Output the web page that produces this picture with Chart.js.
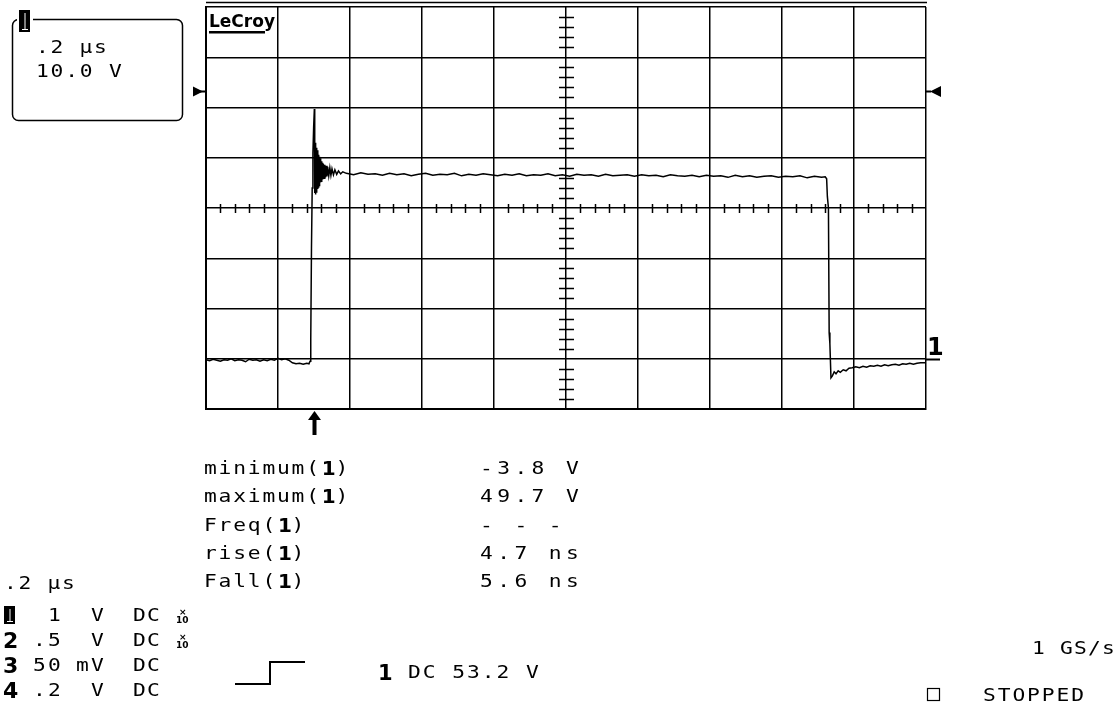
<!DOCTYPE html>
<html>
<head>
<meta charset="utf-8">
<title>LeCroy capture</title>
<script src="https://cdn.jsdelivr.net/npm/chart.js@4.4.1/dist/chart.umd.min.js"></script>
<style>
  html, body { margin: 0; padding: 0; background: #fff; }
  canvas { display: block; }
</style>
</head>
<body>
<canvas id="scope" width="1117" height="708"></canvas>
<script>
'use strict';

// Channel 1 trace. Time in ns from the left edge (0.2 us/div),
// volts with the x10 probe (10 V/div).
var baseT = [0, 10, 20, 30, 40, 50, 60, 70, 80, 90, 100, 110, 120, 130, 140, 150, 160, 170, 180, 190, 200, 210, 220, 230, 240, 250, 260, 270, 280, 286, 289];
var baseV = [-0.2, -0.4, -0.1, -0.3, -0.5, -0.2, -0.3, 0.0, -0.4, -0.2, -0.3, -0.6, -0.1, -0.3, -0.2, -0.5, -0.2, -0.4, -0.1, -0.3, 0.1, -0.2, 0.0, -0.3, -0.8, -1.0, -0.9, -1.1, -0.9, -1.0, -0.5];

var riseT = [291, 293, 295, 297, 299, 301, 302, 303, 304, 305, 306, 307, 308, 309, 310, 311, 312, 313, 314, 315, 316, 317, 318, 319, 320, 321, 322, 323, 324, 326, 328, 330, 332, 334, 336, 338, 341, 344, 347, 350, 354, 358, 363, 368, 374, 380];
var riseV = [4.0, 22.0, 34.0, 41.0, 46.0, 49.7, 33.0, 43.0, 32.7, 42.5, 33.2, 42.0, 33.5, 41.5, 33.8, 41.0, 34.2, 40.6, 34.5, 40.2, 34.8, 39.9, 35.1, 39.6, 35.3, 39.3, 35.5, 39.0, 35.7, 38.8, 35.9, 38.6, 36.1, 38.4, 36.3, 38.2, 36.4, 38.0, 36.5, 37.8, 36.6, 37.6, 36.7, 37.4, 36.8, 37.2];

var topT = [390, 410, 430, 450, 470, 490, 510, 530, 550, 570, 590, 610, 630, 650, 670, 690, 710, 730, 750, 770, 790, 810, 830, 850, 870, 890, 910, 930, 950, 970, 990, 1010, 1030, 1050, 1070, 1090, 1110, 1130, 1150, 1170, 1190, 1210, 1230, 1250, 1270, 1290, 1310, 1330, 1350, 1370, 1390, 1410, 1430, 1450, 1470, 1490, 1510, 1530, 1550, 1570, 1590, 1610, 1630, 1650, 1670, 1690, 1710, 1720];
var topV = [36.9, 36.6, 37.0, 36.7, 36.8, 36.5, 36.9, 36.6, 36.8, 36.4, 36.7, 36.9, 36.5, 36.7, 36.6, 36.9, 36.4, 36.7, 36.5, 36.8, 36.6, 36.4, 36.7, 36.5, 36.8, 36.4, 36.6, 36.5, 36.8, 36.4, 36.6, 36.3, 36.7, 36.5, 36.6, 36.3, 36.7, 36.4, 36.5, 36.6, 36.3, 36.6, 36.4, 36.5, 36.2, 36.6, 36.4, 36.3, 36.5, 36.2, 36.5, 36.3, 36.4, 36.1, 36.5, 36.2, 36.4, 36.1, 36.3, 36.4, 36.1, 36.3, 36.2, 36.4, 36.0, 36.3, 36.1, 36.2];

var fallT = [1724, 1726, 1729, 1731, 1733, 1736, 1740, 1745, 1750, 1756, 1762, 1770, 1778, 1786, 1795, 1805, 1815, 1825, 1835, 1845, 1855, 1865, 1875, 1885, 1895, 1905, 1915, 1925, 1935, 1945, 1955, 1965, 1975, 1985, 2000];
var fallV = [35.8, 32.3, 30.0, 5.2, 3.0, -3.8, -3.4, -2.6, -3.0, -2.4, -2.7, -2.2, -2.4, -1.9, -1.8, -1.6, -1.8, -1.5, -1.7, -1.4, -1.5, -1.3, -1.5, -1.2, -1.4, -1.2, -1.1, -1.3, -1.0, -1.1, -0.9, -1.1, -0.9, -0.8, -0.8];

// screen settings
var triggerNs = 300;
var triggerVolts = 53.2;
var centreNs = 1000;
var centreVolts = 30;

// measurement panel
var paramNames = ['minimum', 'maximum', 'Freq', 'rise', 'Fall'];
var paramValues = ['-3.8 V', '49.7 V', '- - -', '4.7 ns', '5.6 ns'];

// channel setup rows
var chanIds = ['1', '2', '3', '4'];
var chanScale = [' 1', '.5', '50', '.2'];
var chanUnit = [' V', ' V', 'mV', ' V'];
var chanCoupling = ['DC', 'DC', 'DC', 'DC'];
var chanProbe = [true, true, false, false];

function toPoints(ts, vs) {
    return ts.map((t, i) => ({ x: t, y: vs[i] }));
}

var trace = [].concat(
    toPoints(baseT, baseV),
    toPoints(riseT, riseV),
    toPoints(topT, topV),
    toPoints(fallT, fallV)
);

var MONO = '"DejaVu Sans Mono", monospace';

function drawText(ctx, str, x, baseline, pitch, sx) {
    ctx.font = '17px ' + MONO;
    for (var i = 0; i < str.length; i++) {
        var ch = str[i];
        if (ch === ' ') continue;
        ctx.save();
        ctx.translate(x + i * pitch, baseline);
        ctx.scale(sx || 1.25, 1);
        ctx.fillText(ch, 0, 0);
        ctx.restore();
    }
}

function boldDigit(ctx, d, x, baseline, size) {
    ctx.font = 'bold ' + size + 'px "DejaVu Sans", sans-serif';
    ctx.fillText(d, x, baseline);
}

function badge(ctx, x, y, w, h) {
    ctx.fillStyle = '#000';
    ctx.fillRect(x, y, w, h);
    ctx.strokeStyle = '#fff';
    ctx.lineWidth = 1;
    ctx.beginPath();
    ctx.moveTo(x + w / 2 + 0.5, y + 3);
    ctx.lineTo(x + w / 2 + 0.5, y + h - 2);
    ctx.moveTo(x + 3, y + h - 2.5);
    ctx.lineTo(x + w - 2, y + h - 2.5);
    ctx.stroke();
    ctx.strokeStyle = '#000';
}

var scopeDecor = {
    id: 'scopeDecor',
    afterDraw: function (chart) {
        var ctx = chart.ctx;
        var xs = chart.scales.x;
        var ys = chart.scales.y;
        var area = chart.chartArea;
        ctx.save();
        ctx.fillStyle = '#000';
        ctx.strokeStyle = '#000';
        ctx.textAlign = 'left';
        ctx.textBaseline = 'alphabetic';

        // minor ticks on the centre cross
        var cy = Math.round(ys.getPixelForValue(centreVolts)) + 0.5;
        var cx = Math.round(xs.getPixelForValue(centreNs)) + 0.5;
        ctx.lineWidth = 1.5;
        ctx.beginPath();
        for (var t = xs.min; t <= xs.max; t += 40) {
            if (t % 200 === 0) continue;
            var px = Math.round(xs.getPixelForValue(t)) + 0.5;
            ctx.moveTo(px, cy - 4.5);
            ctx.lineTo(px, cy + 4.5);
        }
        for (var v = ys.min; v <= ys.max; v += 2) {
            if (v % 10 === 0) continue;
            var py = Math.round(ys.getPixelForValue(v)) + 0.5;
            ctx.moveTo(cx - 7.5, py);
            ctx.lineTo(cx + 7.5, py);
        }
        ctx.stroke();

        // frame line above the grid
        ctx.lineWidth = 1.5;
        ctx.beginPath();
        ctx.moveTo(area.left, 2.5);
        ctx.lineTo(area.right + 1, 2.5);
        ctx.stroke();

        // LeCroy logo
        ctx.font = 'bold 17px "DejaVu Sans", sans-serif';
        ctx.fillText('LeCroy', area.left + 3, 27);
        ctx.fillRect(area.left + 3, 31, 56, 2.5);

        // trigger level arrows
        var ty = Math.round(ys.getPixelForValue(triggerVolts)) + 0.5;
        ctx.beginPath();
        ctx.moveTo(193, ty - 5);
        ctx.lineTo(203, ty);
        ctx.lineTo(193, ty + 5);
        ctx.closePath();
        ctx.fill();
        ctx.fillRect(200, ty - 1, area.left - 200, 2);
        ctx.beginPath();
        ctx.moveTo(941, ty - 5.5);
        ctx.lineTo(930, ty);
        ctx.lineTo(941, ty + 5.5);
        ctx.closePath();
        ctx.fill();
        ctx.fillRect(area.right, ty - 1, 5, 2);

        // trigger time arrow under the grid
        var tx = Math.round(xs.getPixelForValue(triggerNs));
        ctx.beginPath();
        ctx.moveTo(tx + 0.5, area.bottom + 2);
        ctx.lineTo(tx + 7, area.bottom + 11);
        ctx.lineTo(tx - 6, area.bottom + 11);
        ctx.closePath();
        ctx.fill();
        ctx.fillRect(tx - 1.5, area.bottom + 10, 4, 16);

        // ground marker for channel 1
        var gy = Math.round(ys.getPixelForValue(0)) + 0.5;
        ctx.lineWidth = 2;
        ctx.beginPath();
        ctx.moveTo(area.right, gy);
        ctx.lineTo(area.right + 14, gy);
        ctx.stroke();
        boldDigit(ctx, '1', area.right + 1, gy - 5, 24);

        // channel 1 info box
        ctx.lineWidth = 1.5;
        ctx.beginPath();
        ctx.roundRect(12.5, 19.5, 170, 101, 6);
        ctx.stroke();
        ctx.fillStyle = '#fff';
        ctx.fillRect(17, 8, 16, 14);
        badge(ctx, 19, 10, 11, 22);
        ctx.fillStyle = '#000';
        drawText(ctx, '.2 µs', 36, 53, 14.5);
        drawText(ctx, '10.0 V', 36, 77, 14.6);

        // measurement panel
        for (var i = 0; i < paramNames.length; i++) {
            var base = 474 + i * 28.3;
            var name = paramNames[i] + '(';
            drawText(ctx, name, 204, base, 14.6);
            boldDigit(ctx, '1', 204 + name.length * 14.6 + 1, base + 1, 20);
            drawText(ctx, ')', 204 + (name.length + 1) * 14.6, base, 14.6);
            drawText(ctx, paramValues[i], 480, base, 17.2);
        }

        // timebase and channel rows
        drawText(ctx, '.2 µs', 4, 589, 14.5);
        for (var c = 0; c < chanIds.length; c++) {
            var rb = 621 + c * 25;
            if (c === 0) {
                badge(ctx, 4, rb - 15, 11, 18);
            } else {
                boldDigit(ctx, chanIds[c], 3, rb + 2, 22);
            }
            drawText(ctx, chanScale[c], 33, rb, 15);
            drawText(ctx, chanUnit[c], 76, rb, 15);
            drawText(ctx, chanCoupling[c], 133, rb, 14);
            if (chanProbe[c]) {
                ctx.font = 'bold 9px "DejaVu Sans", sans-serif';
                ctx.fillText('×', 179, rb - 6);
                ctx.fillText('10', 176, rb + 2);
            }
        }

        // trigger setup
        ctx.lineWidth = 2;
        ctx.beginPath();
        ctx.moveTo(235, 684);
        ctx.lineTo(270, 684);
        ctx.lineTo(270, 662);
        ctx.lineTo(305, 662);
        ctx.stroke();
        boldDigit(ctx, '1', 378, 680, 21);
        drawText(ctx, 'DC 53.2 V', 408, 678, 14.75);

        // acquisition status
        drawText(ctx, '1 GS/s', 1032, 654, 14);
        ctx.lineWidth = 1.2;
        ctx.strokeRect(927.5, 688.5, 12, 12);
        drawText(ctx, 'STOPPED', 983, 701, 14.7);

        ctx.restore();
    }
};

var scopeChart = new Chart(document.getElementById('scope'), {
    type: 'line',
    data: {
        datasets: [{
            label: 'Channel 1',
            data: trace,
            borderColor: '#000',
            borderWidth: 1.5,
            pointRadius: 0,
            tension: 0,
            fill: false
        }]
    },
    options: {
        responsive: false,
        animation: false,
        events: [],
        layout: {
            padding: { left: 206, right: 191, top: 7, bottom: 299 }
        },
        plugins: {
            legend: { display: false },
            tooltip: { enabled: false },
            title: { display: false }
        },
        scales: {
            x: {
                type: 'linear',
                min: 0,
                max: 2000,
                ticks: { display: false, stepSize: 200 },
                grid: { color: '#000', lineWidth: 1.5, drawTicks: false },
                border: { color: '#000', width: 2 }
            },
            y: {
                type: 'linear',
                min: -10,
                max: 70,
                ticks: { display: false, stepSize: 10 },
                grid: { color: '#000', lineWidth: 1.5, drawTicks: false },
                border: { color: '#000', width: 2 }
            }
        }
    },
    plugins: [scopeDecor]
});
</script>
</body>
</html>
